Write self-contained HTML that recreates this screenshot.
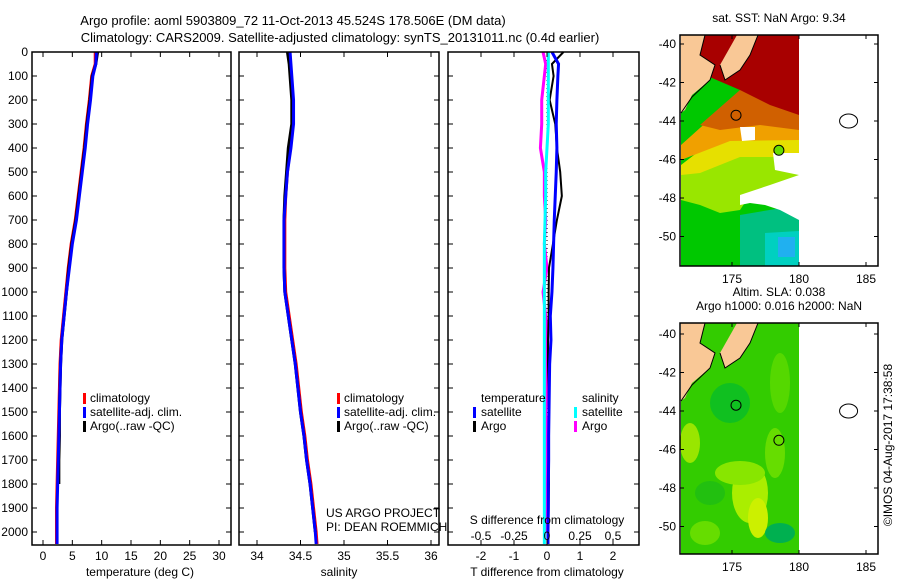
<!DOCTYPE html>
<html><head><meta charset="utf-8"><style>
body{margin:0;background:#fff;}
svg{display:block;font-family:"Liberation Sans",sans-serif;}
text{fill:#000;}
</style></head><body>
<svg id="fig" width="900" height="580" viewBox="0 0 900 580" xmlns="http://www.w3.org/2000/svg">
<text x="293" y="25" font-size="13" text-anchor="middle">Argo profile: aoml 5903809_72 11-Oct-2013 45.524S 178.506E (DM data)</text>
<text x="340" y="42" font-size="13" text-anchor="middle">Climatology: CARS2009. Satellite-adjusted climatology: synTS_20131011.nc (0.4d earlier)</text>
<g id="g"></g>
</svg>
<script>
// ---- data ----
const depthTicks=[0,100,200,300,400,500,600,700,800,900,1000,1100,1200,1300,1400,1500,1600,1700,1800,1900,2000];
const tTicks=[0,5,10,15,20,25,30];
const sTicks=[34,34.5,35,35.5,36];
const dTTicks=[-2,-1,0,1,2];
const dSTicks=["-0.5","-0.25","0","0.25","0.5"];
const depths=[0,50,100,200,300,400,500,600,700,800,900,1000,1100,1200,1300,1400,1500,1600,1700,1800,1900,2000,2050];
const tClim=[8.9,8.9,8.3,7.9,7.4,7.0,6.5,6.0,5.5,4.8,4.3,3.9,3.5,3.1,2.9,2.8,2.7,2.6,2.5,2.4,2.3,2.3,2.3];
const tSat=[9.1,9.0,8.5,8.1,7.6,7.2,6.7,6.2,5.7,5.0,4.5,4.0,3.6,3.2,3.0,2.9,2.8,2.7,2.6,2.5,2.4,2.4,2.4];
const tArgo=[9.3,9.0,8.4,8.0,7.5,7.1,6.6,6.1,5.6,4.9,4.4,4.0,3.6,3.2,3.0,2.9,2.8,2.8,2.7,2.7,null,null,null];
const sClim=[34.37,34.38,34.39,34.41,34.41,34.38,34.35,34.33,34.32,34.32,34.32,34.33,34.37,34.41,34.45,34.48,34.51,34.55,34.58,34.62,34.65,34.68,34.69];
const sSat=[34.38,34.39,34.40,34.42,34.42,34.39,34.35,34.33,34.31,34.31,34.31,34.32,34.36,34.40,34.44,34.47,34.50,34.54,34.57,34.61,34.64,34.67,34.68];
const sArgo=[34.35,34.37,34.38,34.40,34.40,34.36,34.34,34.32,34.31,34.31,34.31,34.32,34.36,34.40,34.44,34.47,34.50,34.54,34.57,34.61,34.64,34.67,null];
const dTSat=[0.15,0.35,0.33,0.30,0.28,0.30,0.28,0.25,0.22,0.20,0.18,0.15,0.10,0.12,0.08,0.07,0.06,0.05,0.05,0.04,0.04,0.03,0.03];
const dTArgo=[0.5,0.15,0.2,0.08,0.25,0.3,0.4,0.45,0.3,0.18,0.06,0.05,0.05,0.03,0.03,0.05,0.05,0.05,0.05,0.06,0.05,0.04,null];
const dSSat=[0.01,0.01,0.01,0.01,0.01,0.0,-0.01,-0.01,-0.015,-0.02,-0.02,-0.02,-0.02,-0.02,-0.02,-0.02,-0.02,-0.02,-0.02,-0.02,-0.02,-0.02,-0.02];
const dSArgo=[-0.03,-0.01,-0.02,-0.04,-0.04,-0.05,-0.02,-0.02,-0.01,-0.02,0.0,-0.03,-0.01,0.0,0.0,0.0,-0.01,0.0,0.0,0.0,0.0,0.0,null];
const mapLonTicks=[175,180,185];
const mapLatTicks=[-40,-42,-44,-46,-48,-50];
// ---- helpers ----
const NS="http://www.w3.org/2000/svg";
const G=document.getElementById('g');
function mk(t,a,p){const e=document.createElementNS(NS,t);for(const k in a)e.setAttribute(k,a[k]);(p||G).appendChild(e);return e;}
const Y0=52,Y1=545;
const yD=d=>52+d*0.24;
const xT=v=>43+v*5.867;
const xS=v=>257+(v-34)*87;
const xDT=v=>547+v*33;
const xDS=v=>547+v*132;
function panel(x0,x1,name){
  const r=mk('rect',{x:x0,y:Y0,width:x1-x0,height:Y1-Y0,fill:'none',stroke:'#000','stroke-width':1.5});
  
  
}
function step(xs,xf,color,w,name){
  let pts=[];
  for(let i=0;i<depths.length;i++){
    if(xs[i]===null)continue;
    const x=xf(xs[i]);
    const ya=yD(depths[i]);
    pts.push(x+','+ya);
  }
  const p=mk('polyline',{points:pts.join(' '),fill:'none',stroke:color,'stroke-width':w});
  
  
}
function xticks(vals,labels,xf,x0,x1,name){
  vals.forEach((v,i)=>{
    const x=xf(v);
    mk('line',{x1:x,x2:x,y1:Y1,y2:Y1-5,stroke:'#000'});
    mk('line',{x1:x,x2:x,y1:Y0,y2:Y0+5,stroke:'#000'});
    const t=mk('text',{x:x,y:560,'font-size':12,'text-anchor':'middle'});
    t.textContent=labels[i];
    
    
  });
}
function yticks(x0,x1,labels){
  depthTicks.forEach(d=>{
    const y=yD(d);
    mk('line',{x1:x0,x2:x0+5,y1:y,y2:y,stroke:'#000'});
    mk('line',{x1:x1,x2:x1-5,y1:y,y2:y,stroke:'#000'});
    if(labels){
      const t=mk('text',{x:28,y:y+4,'font-size':12,'text-anchor':'end'});
      t.textContent=d;
      
      
    }
  });
}
function label(x,y,s,name,anchor,size,parent){
  const t=mk('text',{x:x,y:y,'font-size':size||12,'text-anchor':anchor||'start'},parent);
  t.textContent=s;
  
  
  return t;
}
function legmark(x,y,c,name){
  const r=mk('rect',{x:x,y:y-9,width:3,height:11,fill:c});
  
  
}
// panel 1 temperature
yticks(32,231,true);
step(tClim,xT,'#ff0000',3,'temperature-climatology-line');
step(tArgo,xT,'#000000',3,'temperature-argo-line');
step(tSat,xT,'#0000ff',3,'temperature-satellite-line');
panel(32,231,'temperature-panel');
xticks(tTicks,tTicks,xT,32,231,'temperature-tick-label');
label(140,576,'temperature (deg C)','temperature-axis-title','middle');
[['#ff0000','climatology'],['#0000ff','satellite-adj. clim.'],['#000','Argo(..raw -QC)']].forEach((l,i)=>{
  legmark(83,402+i*14,l[0],'legend-marker');
  label(90,402+i*14,l[1],'legend-entry');
});
// panel 2 salinity
yticks(239,439,false);
step(sClim,xS,'#ff0000',3,'salinity-climatology-line');
step(sArgo,xS,'#000000',3,'salinity-argo-line');
step(sSat,xS,'#0000ff',3,'salinity-satellite-line');
panel(239,439,'salinity-panel');
xticks(sTicks,sTicks,xS,239,439,'salinity-tick-label');
label(339,576,'salinity','salinity-axis-title','middle');
[['#ff0000','climatology'],['#0000ff','satellite-adj. clim.'],['#000','Argo(..raw -QC)']].forEach((l,i)=>{
  legmark(337,402+i*14,l[0],'legend-marker');
  label(344,402+i*14,l[1],'legend-entry');
});
label(326,517,'US ARGO PROJECT','project-credit');
label(326,531,'PI: DEAN ROEMMICH','pi-credit');
// panel 3 differences
yticks(448,639,false);
mk('line',{x1:547,x2:547,y1:Y0,y2:Y1,stroke:'#000','stroke-dasharray':'1,3'});
step(dSArgo,xDS,'#ff00ff',3,'salinity-argo-difference-line');
step(dTArgo,xDT,'#000000',2,'temperature-argo-difference-line');
step(dTSat,xDT,'#0000ff',3,'temperature-satellite-difference-line');
step(dSSat,xDS,'#00ffff',3,'salinity-satellite-difference-line');
panel(448,639,'difference-panel');
dTTicks.forEach(v=>{const x=xDT(v);mk('line',{x1:x,x2:x,y1:Y1,y2:Y1-5,stroke:'#000'});mk('line',{x1:x,x2:x,y1:Y0,y2:Y0+5,stroke:'#000'});
  label(x,560,String(v),'t-difference-tick-label','middle');});
dSTicks.forEach(v=>{label(xDS(parseFloat(v)),540,v,'s-difference-tick-label','middle');});
label(547,524,'S difference from climatology','s-difference-axis-title','middle');
label(547,576,'T difference from climatology','t-difference-axis-title','middle');
label(481,402,'temperature','legend-temperature-heading');
legmark(473,416,'#0000ff','legend-marker');label(481,416,'satellite','legend-entry');
legmark(473,430,'#000','legend-marker');label(481,430,'Argo','legend-entry');
label(582,402,'salinity','legend-salinity-heading');
legmark(574,416,'#00ffff','legend-marker');label(582,416,'satellite','legend-entry');
legmark(574,430,'#ff00ff','legend-marker');label(582,430,'Argo','legend-entry');
// ---- maps ----
function map(y0,latTop,ttls,sst){
  const lonX=l=>732+(l-175)*13.4;
  const latY=l=>latTop+(-40-l)*19.25;
  const x0=680,x1=878,yb=y0+231;
  const g=mk('g',{});
  
  
  const P=(pts,f)=>mk('polygon',{points:pts.map(p=>(x0+p[0])+','+(p[1]+y0)).join(' '),fill:f},g);
  const W=119;
  if(sst){
    P([[1,0],[W,0],[W,231],[1,231]],'#00c800');
    P([[60,180],[W,170],[W,231],[60,231]],'#00c080');
    P([[85,198],[W,196],[W,231],[85,231]],'#00d0c0');
    P([[98,202],[115,202],[115,222],[98,222]],'#20b0f0');
    P([[1,140],[30,120],[W,118],[W,150],[70,160],[60,175],[40,178],[20,170],[1,165]],'#99e600');
    P([[1,130],[40,100],[W,100],[W,122],[60,122],[20,138],[1,140]],'#e6e000');
    P([[1,110],[40,75],[W,75],[W,105],[50,106],[1,125]],'#f0a000');
    P([[20,90],[60,55],[W,60],[W,95],[80,90],[40,95]],'#d06000');
    P([[1,0],[W,0],[W,80],[90,70],[60,55],[25,40],[1,35]],'#a80000');
    P([[60,160],[90,150],[W,140],[W,185],[100,175],[85,170],[70,168],[60,170]],'#ffffff');
    P([[93,118],[W,118],[W,140],[95,135]],'#ffffff');
    P([[60,92],[75,92],[75,105],[62,106]],'#ffffff');
  } else {
    P([[1,0],[W,0],[W,231],[1,231]],'#33cc00');
    [[10,120,10,20,'#99e600'],[70,170,18,30,'#aaee00'],[78,195,10,20,'#ccf000'],[60,150,25,12,'#88e600'],[100,60,10,30,'#55d800'],[100,210,15,10,'#00b050'],[50,80,20,20,'#10c020'],[25,210,15,12,'#66dd00'],[30,170,15,12,'#22c010'],[95,130,10,25,'#66dd00']].forEach(e=>{
      mk('ellipse',{cx:x0+e[0],cy:y0+e[1],rx:e[2],ry:e[3],fill:e[4]},g);
    });
  }
  P([[1,0],[25,0],[20,20],[35,30],[30,45],[12,60],[5,75],[1,78]],'#f9c896');
  P([[57,0],[78,0],[70,20],[60,35],[45,45],[40,30]],'#f9c896');
  mk('polyline',{points:[[1,78],[12,62],[30,45],[35,30],[20,20],[25,0]].map(p=>(x0+p[0])+','+(y0+p[1])).join(' '),fill:'none',stroke:'#000'},g);
  mk('polyline',{points:[[40,30],[45,45],[60,35],[70,20],[78,0]].map(p=>(x0+p[0])+','+(y0+p[1])).join(' '),fill:'none',stroke:'#000'},g);
  mk('circle',{cx:lonX(178.5),cy:latY(-45.52),r:5,fill:sst?'#66dd00':'none',stroke:'#000'},g);
  mk('ellipse',{cx:lonX(183.7),cy:latY(-44),rx:9,ry:7,fill:'none',stroke:'#000'},g);
  mk('ellipse',{cx:lonX(175.3),cy:latY(-43.7),rx:5,ry:5,fill:'none',stroke:'#000'},g);
  mk('rect',{x:x0,y:y0,width:x1-x0,height:231,fill:'none',stroke:'#000','stroke-width':1.5},g);
  mapLonTicks.forEach(l=>{const x=lonX(l);mk('line',{x1:x,x2:x,y1:yb,y2:yb-4,stroke:'#000'},g);mk('line',{x1:x,x2:x,y1:y0,y2:y0+4,stroke:'#000'},g);
    label(x,yb+17,String(l),'map-lon-tick-label','middle',12,g);});
  mapLatTicks.forEach(l=>{const y=latY(l);mk('line',{x1:x0,x2:x0+4,y1:y,y2:y,stroke:'#000'},g);mk('line',{x1:x1,x2:x1-4,y1:y,y2:y,stroke:'#000'},g);
    label(x0-4,y+4,String(l),'map-lat-tick-label','end',12,g);});
  ttls.forEach((s,i)=>label(779,y0-13-(ttls.length-1-i)*14,s,'map-title','middle',12,g));
}
map(35,44,['sat. SST: NaN Argo: 9.34'],true);
map(323,334,['Altim. SLA: 0.038','Argo h1000: 0.016 h2000: NaN'],false);
const cr=label(0,0,'©IMOS 04-Aug-2017 17:38:58','timestamp','middle');
cr.setAttribute('transform','translate(892,445) rotate(-90)');
</script>
</body></html>
